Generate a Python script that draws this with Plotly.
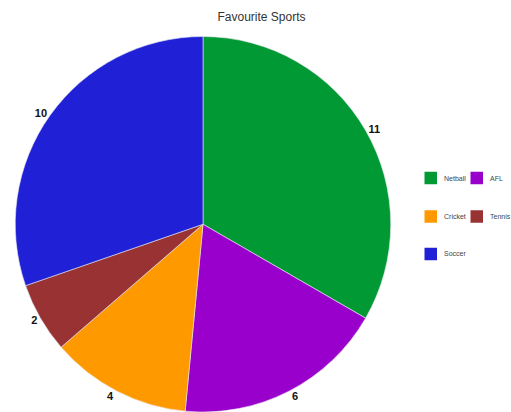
import plotly.graph_objects as go

# Favourite sports survey results
sports = ["Netball", "AFL", "Cricket", "Tennis", "Soccer"]
votes = [11, 6, 4, 2, 10]
colors = ["#009933", "#9900CC", "#FF9900", "#993333", "#2020D6"]

W, H = 511, 412
FONT = "Liberation Sans, Arial, sans-serif"

fig = go.Figure(
    go.Pie(
        labels=sports,
        values=votes,
        sort=False,
        direction="clockwise",
        rotation=0,
        marker=dict(colors=colors, line=dict(color="#e8e8f0", width=0.6)),
        textposition="outside",
        texttemplate="<b>%{value}</b>",
        textfont=dict(family=FONT, size=11, color="#111111"),
        hoverinfo="label+value",
        automargin=False,
        domain=dict(x=[0, 406 / W], y=[0, 1 - 36.5 / H]),
        showlegend=False,
    )
)

# Two-column legend on the right (paper coords span the full figure)
legend_cols = [442, 488]
legend_rows = [178, 216.5, 254]
sw = 12.5
shapes, annotations = [], []
for i, (name, col) in enumerate(zip(sports, colors)):
    r, c = divmod(i, 2)
    tx = legend_cols[c]
    cy = legend_rows[r]
    x0 = tx - 17.5
    shapes.append(dict(
        type="rect", xref="paper", yref="paper",
        x0=x0 / W, x1=(x0 + sw) / W,
        y0=1 - (cy + sw / 2) / H, y1=1 - (cy - sw / 2) / H,
        fillcolor=col, line=dict(width=0),
    ))
    annotations.append(dict(
        text=name, xref="paper", yref="paper",
        x=tx / W, y=1 - cy / H, xanchor="left", yanchor="middle",
        showarrow=False,
        font=dict(family=FONT, size=7, color="#444444"),
    ))

fig.update_layout(
    width=W,
    height=H,
    margin=dict(l=0, r=0, t=0, b=0, pad=0, autoexpand=False),
    paper_bgcolor="white",
    plot_bgcolor="white",
    title=dict(
        text="Favourite Sports",
        x=261.5 / W, xanchor="center",
        y=1 - 16.5 / H, yanchor="middle", yref="container",
        font=dict(family=FONT, size=12, color="#333333"),
    ),
    shapes=shapes,
    annotations=annotations,
)

fig.write_html("out.html")
